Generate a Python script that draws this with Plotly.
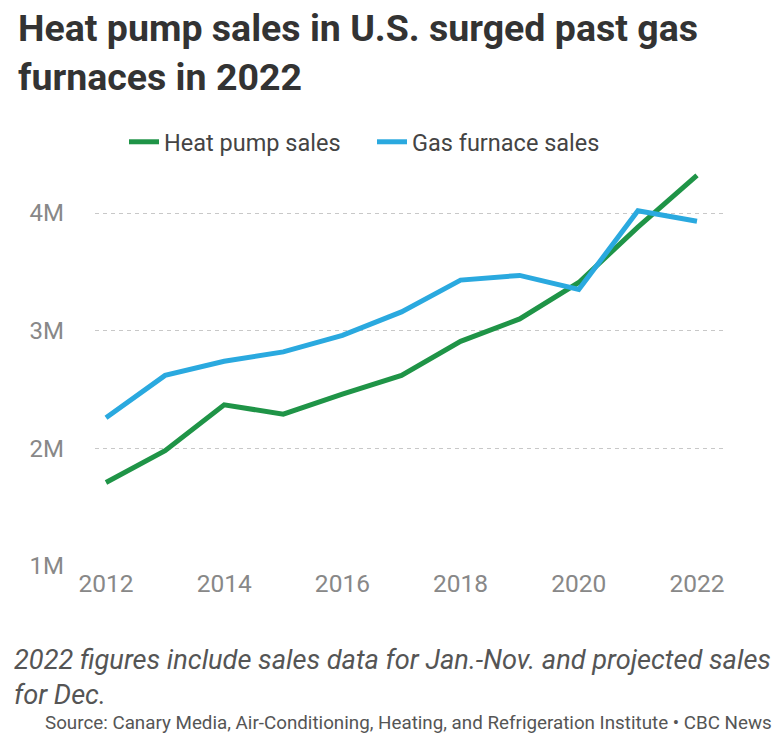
import plotly.graph_objects as go

years = [2012, 2013, 2014, 2015, 2016, 2017, 2018, 2019, 2020, 2021, 2022]
heat_pump = [1.71e6, 1.98e6, 2.37e6, 2.29e6, 2.46e6, 2.62e6, 2.91e6, 3.10e6, 3.41e6, 3.88e6, 4.32e6]
gas_furnace = [2.26e6, 2.62e6, 2.74e6, 2.82e6, 2.96e6, 3.16e6, 3.43e6, 3.47e6, 3.35e6, 4.02e6, 3.93e6]
y_ticks = [1e6, 2e6, 3e6, 4e6]
y_labels = ["1M", "2M", "3M", "4M"]
x_ticks = [2012, 2014, 2016, 2018, 2020, 2022]

FONT = "Roboto, 'Open Sans', sans-serif"
W, H = 780, 741
L, R, T, B = 95, 55, 166, 175
PW, PH = W - L - R, H - T - B


def px(x):
    return (x - L) / PW


def py(y):
    return (T + PH - y) / PH


fig = go.Figure()
fig.add_trace(go.Scatter(x=years, y=heat_pump, mode="lines", name="Heat pump sales",
                         line=dict(color="#1f9447", width=5)))
fig.add_trace(go.Scatter(x=years, y=gas_furnace, mode="lines", name="Gas furnace sales",
                         line=dict(color="#2aa9df", width=5)))

fig.update_layout(
    width=W, height=H,
    paper_bgcolor="white", plot_bgcolor="white",
    margin=dict(l=L, r=R, t=T, b=B, autoexpand=False),
    font=dict(family=FONT, color="#444"),
    showlegend=True,
    legend=dict(orientation="h", x=px(124), xanchor="left", y=py(142), yanchor="middle",
                font=dict(size=23.5, color="#444"), bgcolor="rgba(0,0,0,0)",
                entrywidth=203, entrywidthmode="pixels"),
    xaxis=dict(range=[2011.814, 2022.474], tickvals=x_ticks, showgrid=False, zeroline=False,
               showline=False, ticks="", automargin=False,
               tickfont=dict(size=24.5, color="#888")),
    yaxis=dict(range=[1e6, 4.4e6], tickvals=y_ticks, ticktext=y_labels, showgrid=True,
               gridcolor="#c8c8c8", griddash="4px,4px", gridwidth=1, zeroline=False,
               showline=False, ticks="", ticklabelstandoff=30, automargin=False,
               tickfont=dict(size=24, color="#888")),
    annotations=[
        dict(text="<b>Heat pump sales in U.S. surged past gas<br>furnaces in 2022</b>",
             x=px(16), y=py(4), xref="paper", yref="paper", xanchor="left", yanchor="top",
             showarrow=False, align="left", font=dict(size=37.5, color="#333", family=FONT)),
        dict(text="<i>2022 figures include sales data for Jan.-Nov. and projected sales<br>for Dec.</i>",
             x=px(12), y=py(642), xref="paper", yref="paper", xanchor="left", yanchor="top",
             showarrow=False, align="left", font=dict(size=27.2, color="#555", family=FONT)),
        dict(text="Source: Canary Media, Air-Conditioning, Heating, and Refrigeration Institute • CBC News",
             x=px(774), y=py(710), xref="paper", yref="paper", xanchor="right", yanchor="top",
             showarrow=False, align="right", font=dict(size=18.8, color="#555", family=FONT)),
    ],
)

fig.write_html("out.html", config={"displayModeBar": False},
               post_script="document.body.style.margin='0';document.body.style.padding='0';")
